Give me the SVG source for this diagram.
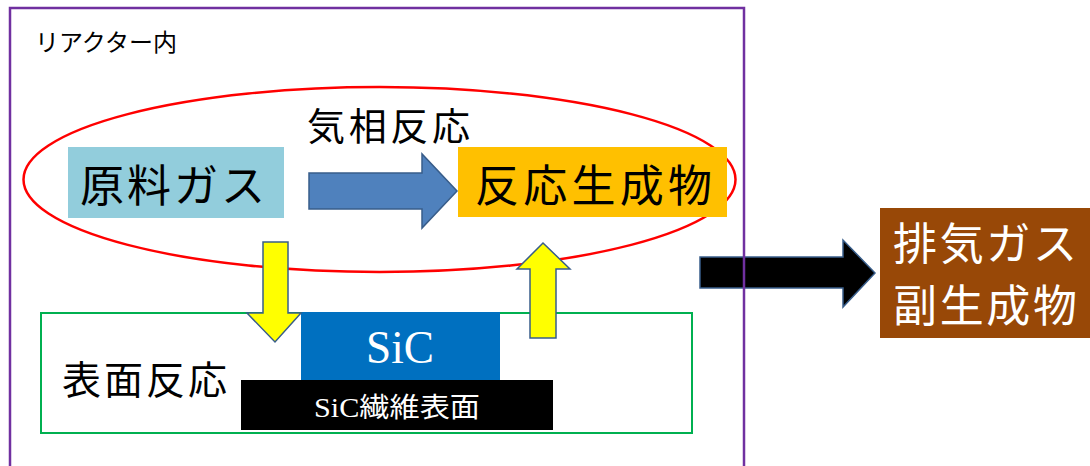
<svg xmlns="http://www.w3.org/2000/svg" width="1090" height="466" viewBox="0 0 1090 466">
  <style>
    .jp { font-family: "Noto Sans CJK JP", "Noto Sans", sans-serif; }
    .serif { font-family: "Liberation Serif", "Noto Sans CJK JP", serif; }
    .yarrow { fill: #FFFF00; stroke: #385D8A; stroke-width: 1.5; }
  </style>
  <rect width="1090" height="466" fill="#FFFFFF"/>

  <g id="connectors">
    <path id="exhaust-arrow" d="M700,257 H843 V240 L875,273 L843,307 V288 H700 Z" fill="#000000" stroke="#385D8A" stroke-width="1.5"/>
  </g>

  <g id="reactor">
    <rect x="10" y="8" width="734" height="470" fill="none" stroke="#7030A0" stroke-width="2.5"/>
    <text class="jp" x="35" y="51" font-size="24" textLength="142" lengthAdjust="spacingAndGlyphs">リアクター内</text>
  </g>

  <g id="gas-phase">
    <ellipse cx="379.5" cy="179.5" rx="356" ry="92.5" fill="none" stroke="#FF0000" stroke-width="2.5"/>
    <text class="jp" x="307" y="140" font-size="38" textLength="163" lengthAdjust="spacing">気相反応</text>
  </g>

  <g id="raw-gas">
    <rect x="68" y="147" width="216" height="71" fill="#92CDDC"/>
    <text class="jp" x="80" y="202" font-size="44" textLength="185" lengthAdjust="spacing">原料ガス</text>
  </g>

  <g id="gas-arrow">
    <path d="M309,173 H422 V154 L457,191 L422,228 V209 H309 Z" fill="#4F81BD" stroke="#385D8A" stroke-width="1.5"/>
  </g>

  <g id="product">
    <rect x="458" y="147" width="269" height="70" fill="#FFC000"/>
    <text class="jp" x="475" y="202" font-size="44" textLength="237" lengthAdjust="spacing">反応生成物</text>
  </g>

  <g id="surface">
    <rect x="41" y="313" width="651" height="120" fill="none" stroke="#00B050" stroke-width="2"/>
    <text class="jp" x="62" y="394" font-size="39" textLength="165" lengthAdjust="spacing">表面反応</text>
  </g>

  <g id="sic">
    <rect x="301" y="312" width="199" height="68" fill="#0070C0"/>
    <text class="serif" x="400" y="363" font-size="46" fill="#FFFFFF" text-anchor="middle" textLength="68" lengthAdjust="spacingAndGlyphs">SiC</text>
  </g>

  <g id="fiber">
    <rect x="241" y="380" width="312" height="50" fill="#000000"/>
    <text class="serif" x="314" y="417" font-size="27" fill="#FFFFFF" textLength="166" lengthAdjust="spacingAndGlyphs">SiC<tspan class="jp">繊維表面</tspan></text>
  </g>

  <g id="down-arrow">
    <path class="yarrow" d="M263,242 H288 V313 H301 L275,342 L247,313 H263 Z"/>
  </g>

  <g id="up-arrow">
    <path class="yarrow" d="M543,243 L570,269 H556 V338 H530 V269 H517 Z"/>
  </g>

  <g id="exhaust">
    <rect x="880" y="208" width="212" height="130" fill="#984807"/>
    <text class="jp" x="893" y="260" font-size="44" fill="#FFFFFF" textLength="184" lengthAdjust="spacing">排気ガス</text>
    <text class="jp" x="893" y="322" font-size="44" fill="#FFFFFF" textLength="184" lengthAdjust="spacing">副生成物</text>
  </g>
</svg>
